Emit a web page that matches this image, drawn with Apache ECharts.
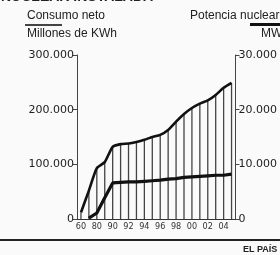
<!DOCTYPE html>
<html><head><meta charset="utf-8">
<script src="https://cdn.jsdelivr.net/npm/echarts@6/dist/echarts.min.js"></script>
<style>html,body{margin:0;padding:0;background:#fafafa}#c{width:280px;height:255px}</style>
</head><body><div id="c"></div>
<script>
var years = ['60','70','80','85','90','91','92','93','94','95','96','97','98','99','00','01','02','03','04','05'];
var consumo = [12000,52000,93000,104000,132000,137000,138000,141000,145000,150000,154000,163000,178000,192000,203000,211000,217000,227000,240000,249000];
var potencia = [null,150,1100,3900,6600,6700,6800,6800,6900,7000,7100,7300,7400,7600,7700,7800,7900,8000,8000,8200];
var leftTicks = [0,100000,200000,300000];
var rightTicks = [0,10000,20000,30000];
function fmt(v){return v===0?'0':String(v).replace(/(\d)(?=(\d{3})+$)/g,'$1.');}
var chart = echarts.init(document.getElementById('c'));
var F = 'Liberation Sans, Arial, sans-serif';
var D = 'DejaVu Sans, sans-serif';
chart.setOption({
  backgroundColor:'#fafafa',
  animation:false,
  grid:{left:77,right:41,top:55,bottom:36},
  xAxis:{type:'category',data:years,boundaryGap:true,
    axisLine:{lineStyle:{color:'#333',width:1}},
    axisTick:{show:false},
    axisLabel:{interval:1,fontFamily:'Liberation Sans Narrow, DejaVu Sans Condensed, sans-serif',fontSize:9,color:'#333',margin:3}},
  yAxis:[
    {type:'value',min:0,max:300000,interval:100000,position:'left',
     axisLine:{show:true,lineStyle:{color:'#444',width:1}},
     axisTick:{show:true,length:4,lineStyle:{color:'#444'}},
     splitLine:{show:false},
     axisLabel:{formatter:fmt,fontFamily:D,fontSize:11,color:'#222',margin:3}},
    {type:'value',min:0,max:30000,interval:10000,position:'right',
     axisLine:{show:true,lineStyle:{color:'#444',width:1}},
     axisTick:{show:true,length:4,lineStyle:{color:'#444'}},
     splitLine:{show:false},
     axisLabel:{formatter:fmt,fontFamily:D,fontSize:11,color:'#222',margin:3}}
  ],
  series:[
    {type:'bar',data:consumo,barWidth:1.3,itemStyle:{color:'#444'},silent:true},
    {type:'line',data:consumo,symbol:'none',smooth:0.2,lineStyle:{color:'#111',width:2.6}},
    {type:'line',data:potencia,yAxisIndex:1,symbol:'none',lineStyle:{color:'#111',width:3.2}}
  ],
  graphic:[
    {type:'text',left:1,top:-10,style:{text:'NUCLEAR INSTALADA',font:'bold 14px '+F,fill:'#222'}},
    {type:'text',left:27,top:10,style:{text:'Consumo neto',font:'12px '+F,fill:'#222'}},
    {type:'rect',shape:{x:25,y:24,width:37,height:2},style:{fill:'#444'}},
    {type:'text',left:27,top:28,style:{text:'Millones de KWh',font:'12px '+F,fill:'#222'}},
    {type:'text',left:190,top:10,style:{text:'Potencia nuclear',font:'12px '+F,fill:'#222'}},
    {type:'rect',shape:{x:250,y:23,width:30,height:3},style:{fill:'#111'}},
    {type:'text',left:261,top:28,style:{text:'MW',font:'12px '+F,fill:'#222'}},
    {type:'rect',shape:{x:0,y:239,width:280,height:2},style:{fill:'#222'}},
    {type:'text',left:243,top:245,style:{text:'EL PAÍS',font:'bold 9px '+F,fill:'#222'}}
  ]
});
</script></body></html>
